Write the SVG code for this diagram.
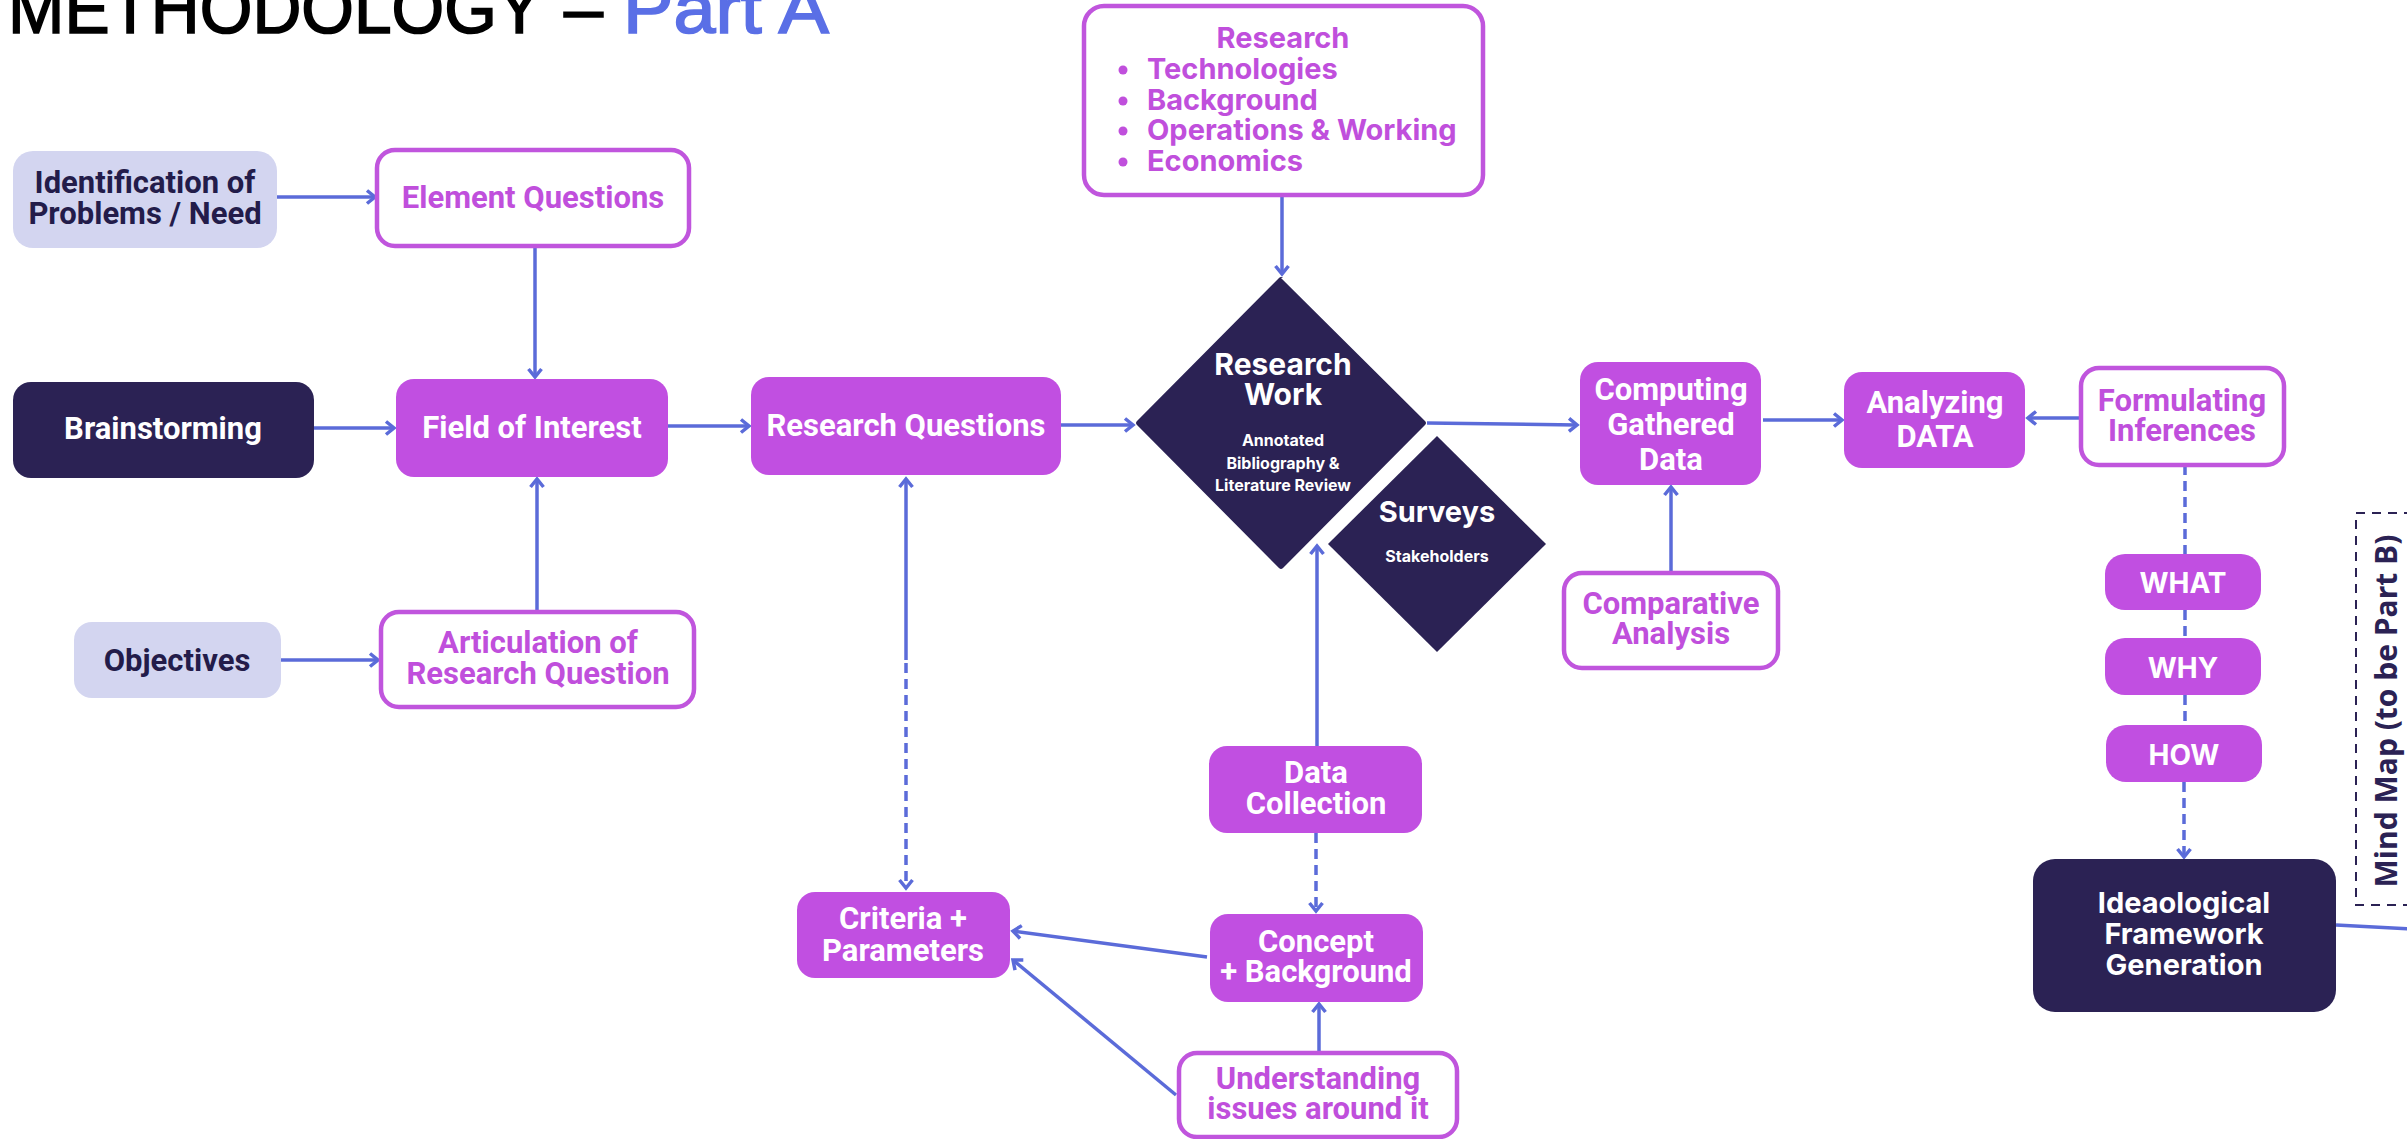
<svg xmlns="http://www.w3.org/2000/svg" width="2407" height="1139" viewBox="0 0 2407 1139">
<style>
.bg{fill:#ffffff}
.pur{fill:#c14fe1}
.nav{fill:#2b2254}
.lav{fill:#d3d5f0}
.out{fill:#ffffff;stroke:#c055dd;stroke-width:4.5}
.t{font-family:Roboto,'Liberation Sans',sans-serif;font-weight:700;font-size:31px;text-anchor:middle}
.i{font-family:Inter,'Liberation Sans',sans-serif;font-weight:700;text-anchor:middle}
.w{fill:#ffffff}
.p{fill:#c04fdc}
.n{fill:#231c4a}
.c{fill:none;stroke:#5b6bd9;stroke-width:3.5}
.d{stroke-dasharray:10 6}
</style>
<defs>
<marker id="ah" markerUnits="userSpaceOnUse" markerWidth="14" markerHeight="16" refX="10" refY="8" orient="auto">
<path d="M2,1.5 L10,8 L2,14.5" fill="none" stroke="#5b6bd9" stroke-width="3.5"/>
</marker>
</defs>
<rect class="bg" x="0" y="0" width="2407" height="1139"/>
<g id="title">
<text y="33" font-family="'Liberation Sans',Arial,sans-serif" font-size="70" stroke-width="1.6"><tspan x="8" textLength="534" lengthAdjust="spacingAndGlyphs" fill="#000" stroke="#000">METHODOLOGY</tspan><tspan x="564" textLength="39" lengthAdjust="spacingAndGlyphs" fill="#000" stroke="#000">–</tspan><tspan x="623" textLength="206" lengthAdjust="spacingAndGlyphs" fill="#5a6fe6" stroke="#5a6fe6">Part A</tspan></text>
</g>
<g id="connectors">
<line class="c" x1="277" y1="197" x2="375" y2="197" marker-end="url(#ah)"/>
<line class="c" x1="535" y1="246" x2="535" y2="377" marker-end="url(#ah)"/>
<line class="c" x1="314" y1="428" x2="394" y2="428" marker-end="url(#ah)"/>
<line class="c" x1="537" y1="612" x2="537" y2="479" marker-end="url(#ah)"/>
<line class="c" x1="668" y1="426" x2="749" y2="426" marker-end="url(#ah)"/>
<line class="c" x1="281" y1="660" x2="378" y2="660" marker-end="url(#ah)"/>
<line class="c" x1="1061" y1="425" x2="1133" y2="425" marker-end="url(#ah)"/>
<line class="c" x1="1282" y1="195" x2="1282" y2="274" marker-end="url(#ah)"/>
<line class="c" x1="1427" y1="423" x2="1577" y2="425" marker-end="url(#ah)"/>
<line class="c" x1="1317" y1="746" x2="1317" y2="546" marker-end="url(#ah)"/>
<line class="c" x1="906" y1="660" x2="906" y2="479" marker-end="url(#ah)"/>
<line class="c d" x1="906" y1="663" x2="906" y2="888" marker-end="url(#ah)"/>
<line class="c d" x1="1316" y1="833" x2="1316" y2="911" marker-end="url(#ah)"/>
<line class="c" x1="1319" y1="1053" x2="1319" y2="1004" marker-end="url(#ah)"/>
<line class="c" x1="1207" y1="957" x2="1013" y2="931" marker-end="url(#ah)"/>
<line class="c" x1="1176" y1="1095" x2="1013" y2="960" marker-end="url(#ah)"/>
<line class="c" x1="1671" y1="573" x2="1671" y2="487" marker-end="url(#ah)"/>
<line class="c" x1="1763" y1="420" x2="1842" y2="420" marker-end="url(#ah)"/>
<line class="c" x1="2081" y1="418" x2="2028" y2="418" marker-end="url(#ah)"/>
<line class="c d" x1="2185" y1="465" x2="2185" y2="554"/>
<line class="c d" x1="2185" y1="610" x2="2185" y2="638"/>
<line class="c d" x1="2185" y1="695" x2="2185" y2="725"/>
<line class="c d" x1="2184" y1="782" x2="2184" y2="857" marker-end="url(#ah)"/>
<line class="c" x1="2336" y1="925" x2="2410" y2="929"/>
</g>
<g id="ident"><rect class="lav" x="13" y="151" width="264" height="97" rx="20"/>
<text class="t n" x="145" y="193">Identification of</text><text class="t n" x="145" y="224">Problems / Need</text></g>
<g id="elemq"><rect class="out" x="377" y="150" width="312" height="96" rx="18"/>
<text class="t p" x="533" y="208">Element Questions</text></g>
<g id="brain"><rect class="nav" x="13" y="382" width="301" height="96" rx="18"/>
<text class="t w" x="163" y="439">Brainstorming</text></g>
<g id="field"><rect class="pur" x="396" y="379" width="272" height="98" rx="18"/>
<text class="t w" x="532" y="438">Field of Interest</text></g>
<g id="rq"><rect class="pur" x="751" y="377" width="310" height="98" rx="18"/>
<text class="t w" x="906" y="436">Research Questions</text></g>
<g id="obj"><rect class="lav" x="74" y="622" width="207" height="76" rx="18"/>
<text class="t n" x="177" y="671">Objectives</text></g>
<g id="artic"><rect class="out" x="381" y="612" width="313" height="95" rx="18"/>
<text class="t p" x="538" y="653">Articulation of</text><text class="t p" x="538" y="684">Research Question</text></g>
<g id="criteria"><rect class="pur" x="797" y="892" width="213" height="86" rx="18"/>
<text class="t w" x="903" y="929">Criteria +</text><text class="t w" x="903" y="961">Parameters</text></g>
<g id="datacoll"><rect class="pur" x="1209" y="746" width="213" height="87" rx="18"/>
<text class="t w" x="1316" y="783">Data</text><text class="t w" x="1316" y="814">Collection</text></g>
<g id="concept"><rect class="pur" x="1210" y="914" width="213" height="88" rx="18"/>
<text class="t w" x="1316" y="952">Concept</text><text class="t w" x="1316" y="982">+ Background</text></g>
<g id="underst"><rect class="out" x="1179" y="1053" width="278" height="84" rx="18"/>
<text class="t p" x="1318" y="1089">Understanding</text><text class="t p" x="1318" y="1119">issues around it</text></g>
<g id="research"><rect class="out" x="1084" y="6" width="399" height="189" rx="20"/>
<text class="i p" x="1283" y="48" font-size="29">Research</text>
<g class="p"><circle cx="1123" cy="70" r="4.5"/><circle cx="1123" cy="101" r="4.5"/><circle cx="1123" cy="131" r="4.5"/><circle cx="1123" cy="162" r="4.5"/></g>
<g class="p" font-family="Inter,'Liberation Sans',sans-serif" font-weight="700" font-size="29">
<text x="1147" y="79">Technologies</text><text x="1147" y="110">Background</text><text x="1147" y="140">Operations &amp; Working</text><text x="1147" y="171">Economics</text></g></g>
<g id="researchwork"><path class="nav" d="M1281,278 L1425,421 Q1427,423 1425,425 L1283,568 Q1281,570 1279,568 L1137,425 Q1135,423 1137,421 L1279,278 Q1281,276 1283,278 Z"/>
<text class="i w" x="1283" y="375" font-size="30">Research</text><text class="i w" x="1283" y="405" font-size="30">Work</text>
<text class="i w" x="1283" y="446" font-size="16">Annotated</text><text class="i w" x="1283" y="469" font-size="16">Bibliography &amp;</text><text class="i w" x="1283" y="491" font-size="16">Literature Review</text></g>
<g id="surveys"><path class="nav" d="M1437,436 L1546,544 L1437,652 L1328,544 Z"/>
<text class="i w" x="1437" y="522" font-size="29">Surveys</text><text class="i w" x="1437" y="562" font-size="16">Stakeholders</text></g>
<g id="computing"><rect class="pur" x="1580" y="362" width="181" height="123" rx="18"/>
<text class="t w" x="1671" y="400">Computing</text><text class="t w" x="1671" y="435">Gathered</text><text class="t w" x="1671" y="470">Data</text></g>
<g id="analyzing"><rect class="pur" x="1844" y="372" width="181" height="96" rx="18"/>
<text class="t w" x="1935" y="413">Analyzing</text><text class="t w" x="1935" y="447">DATA</text></g>
<g id="formulating"><rect class="out" x="2081" y="368" width="203" height="97" rx="18"/>
<text class="t p" x="2182" y="411">Formulating</text><text class="t p" x="2182" y="441">Inferences</text></g>
<g id="compar"><rect class="out" x="1564" y="573" width="214" height="95" rx="18"/>
<text class="t p" x="1671" y="614">Comparative</text><text class="t p" x="1671" y="644">Analysis</text></g>
<g id="what"><rect class="pur" x="2105" y="554" width="156" height="56" rx="20"/>
<text class="i w" x="2183" y="593" font-size="28">WHAT</text></g>
<g id="why"><rect class="pur" x="2105" y="638" width="156" height="57" rx="20"/>
<text class="i w" x="2183" y="678" font-size="28">WHY</text></g>
<g id="how"><rect class="pur" x="2106" y="725" width="156" height="57" rx="20"/>
<text class="i w" x="2184" y="765" font-size="28">HOW</text></g>
<g id="ideao"><rect class="nav" x="2033" y="859" width="303" height="153" rx="22"/>
<text class="i w" x="2184" y="913" font-size="29">Ideaological</text><text class="i w" x="2184" y="944" font-size="29">Framework</text><text class="i w" x="2184" y="975" font-size="29">Generation</text></g>
<g id="mindmap"><rect x="2356" y="513" width="80" height="392" fill="none" stroke="#2b2254" stroke-width="2" stroke-dasharray="9 7"/>
<text x="0" y="0" transform="translate(2397,711) rotate(-90)" font-family="'Open Sans','Noto Sans',sans-serif" font-weight="700" font-size="30" fill="#2b2254" text-anchor="middle">Mind Map (to be Part B)</text></g>
</svg>
